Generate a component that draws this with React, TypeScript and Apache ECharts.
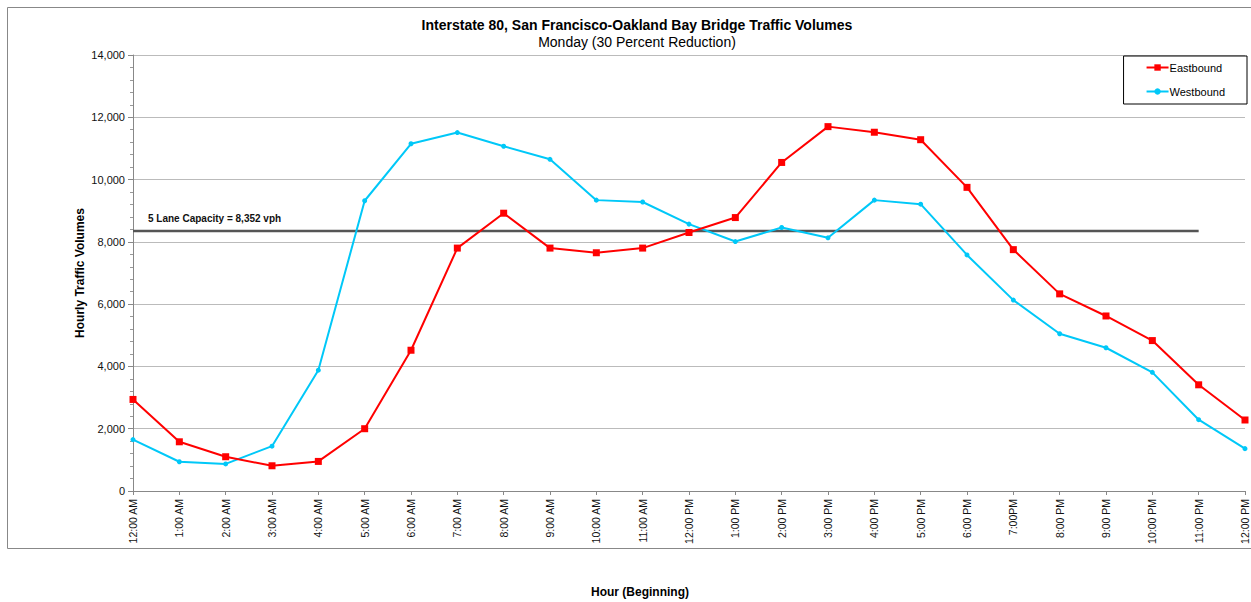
import React, { useEffect, useRef } from "react";
import * as echarts from "echarts";

const hours = [
  "12:00 AM", "1:00 AM", "2:00 AM", "3:00 AM", "4:00 AM", "5:00 AM", "6:00 AM",
  "7:00 AM", "8:00 AM", "9:00 AM", "10:00 AM", "11:00 AM", "12:00 PM",
  "1:00 PM", "2:00 PM", "3:00 PM", "4:00 PM", "5:00 PM", "6:00 PM", "7:00PM",
  "8:00 PM", "9:00 PM", "10:00 PM", "11:00 PM", "12:00 PM",
];

const eastbound = [
  2940, 1580, 1100, 810, 950, 2000, 4520, 7800, 8920, 7800, 7650, 7800, 8300,
  8780, 10550, 11700, 11520, 11280, 9750, 7750, 6330, 5620, 4830, 3410, 2280,
];

const westbound = [
  1650, 940, 870, 1440, 3880, 9320, 11150, 11510, 11070, 10650, 9340, 9280, 8570,
  8010, 8460, 8130, 9340, 9210, 7580, 6130, 5050, 4600, 3810, 2290, 1360,
];

const capacity = 8352;
const capacityEndIndex = 23;
const capacityLabel = "5 Lane Capacity = 8,352 vph";

const FONT = "'Liberation Sans', Arial, sans-serif";

export default function App() {
  const ref = useRef<HTMLDivElement>(null);
  useEffect(() => {
    if (!ref.current) return;
    const chart = echarts.init(ref.current, null, { renderer: "svg" });
    chart.setOption({
      animation: false,
      backgroundColor: "#fff",
      textStyle: { fontFamily: FONT },
      title: {
        text: "Interstate 80, San Francisco-Oakland Bay Bridge Traffic Volumes",
        subtext: "Monday (30 Percent Reduction)",
        left: 632,
        top: 13,
        textAlign: "center",
        itemGap: 3,
        textStyle: { fontFamily: FONT, fontSize: 14, fontWeight: "bold", color: "#000" },
        subtextStyle: { fontFamily: FONT, fontSize: 14, color: "#000" },
      },
      legend: {
        orient: "vertical",
        right: 4,
        top: 56,
        padding: [6, 22, 7, 22],
        itemGap: 13,
        itemWidth: 22,
        itemHeight: 8,
        borderColor: "#000",
        borderWidth: 1,
        textStyle: { fontFamily: FONT, fontSize: 11, color: "#000", padding: [0, 0, 0, -4] },
        data: ["Eastbound", "Westbound"],
      },
      graphic: [
        {
          type: "rect",
          shape: { x: 7.5, y: 7.5, width: 1250, height: 541 },
          style: { fill: "none", stroke: "#888", lineWidth: 1 },
          silent: true,
          z: -10,
        },
      ],
      grid: {
        left: 133,
        right: 6,
        top: 55,
        bottom: 111,
        containLabel: false,
        outerBoundsMode: "none",
      },
      xAxis: {
        type: "category",
        data: hours,
        boundaryGap: false,
        name: "Hour (Beginning)",
        nameLocation: "middle",
        nameGap: 95,
        nameMoveOverlap: false,
        nameTextStyle: {
          fontFamily: FONT,
          fontSize: 12,
          fontWeight: "bold",
          color: "#000",
          padding: [0, 98, 0, 0],
        },
        axisLine: { lineStyle: { color: "#888", width: 1 } },
        axisTick: { show: true, length: 4, lineStyle: { color: "#888" } },
        axisLabel: { rotate: 90, fontSize: 10.5, color: "#111", margin: 8, interval: 0 },
        splitLine: { show: false },
      },
      yAxis: {
        type: "value",
        min: 0,
        max: 14000,
        interval: 2000,
        name: "Hourly Traffic Volumes",
        nameLocation: "middle",
        nameGap: 47,
        nameMoveOverlap: false,
        nameTextStyle: { fontFamily: FONT, fontSize: 12, fontWeight: "bold", color: "#000" },
        axisLine: { show: true, lineStyle: { color: "#888", width: 1 } },
        axisTick: { show: true, length: 5, lineStyle: { color: "#888" } },
        minorTick: { show: true, splitNumber: 5, length: 3, lineStyle: { color: "#999" } },
        axisLabel: {
          fontSize: 11,
          color: "#111",
          margin: 8,
          formatter: (v: number) => v.toLocaleString("en-US"),
        },
        splitLine: { show: true, lineStyle: { color: "#bbb", width: 1 } },
      },
      series: [
        {
          name: "Capacity",
          type: "line",
          data: hours.map((_, i) => (i <= capacityEndIndex ? capacity : null)),
          symbol: "none",
          lineStyle: { color: "#555", width: 2.5 },
          silent: true,
          z: 1,
          markPoint: {
            symbol: "rect",
            symbolSize: 0,
            data: [{ coord: [0, capacity] }],
            label: {
              show: true,
              formatter: capacityLabel,
              position: "right",
              offset: [10, -12],
              fontFamily: FONT,
              fontSize: 10,
              fontWeight: "bold",
              color: "#111",
            },
          },
        },
        {
          name: "Eastbound",
          type: "line",
          data: eastbound,
          symbol: "rect",
          symbolSize: 7,
          showAllSymbol: true,
          itemStyle: { color: "#ff0000" },
          lineStyle: { color: "#ff0000", width: 2 },
          z: 3,
        },
        {
          name: "Westbound",
          type: "line",
          data: westbound,
          symbol: "circle",
          symbolSize: 5,
          showAllSymbol: true,
          itemStyle: { color: "#00c8f8" },
          lineStyle: { color: "#00c8f8", width: 2 },
          z: 2,
        },
      ],
    });
    return () => chart.dispose();
  }, []);
  return (
    <div
      ref={ref}
      style={{ position: "fixed", left: 0, top: 0, width: 1251, height: 602 }}
    />
  );
}
